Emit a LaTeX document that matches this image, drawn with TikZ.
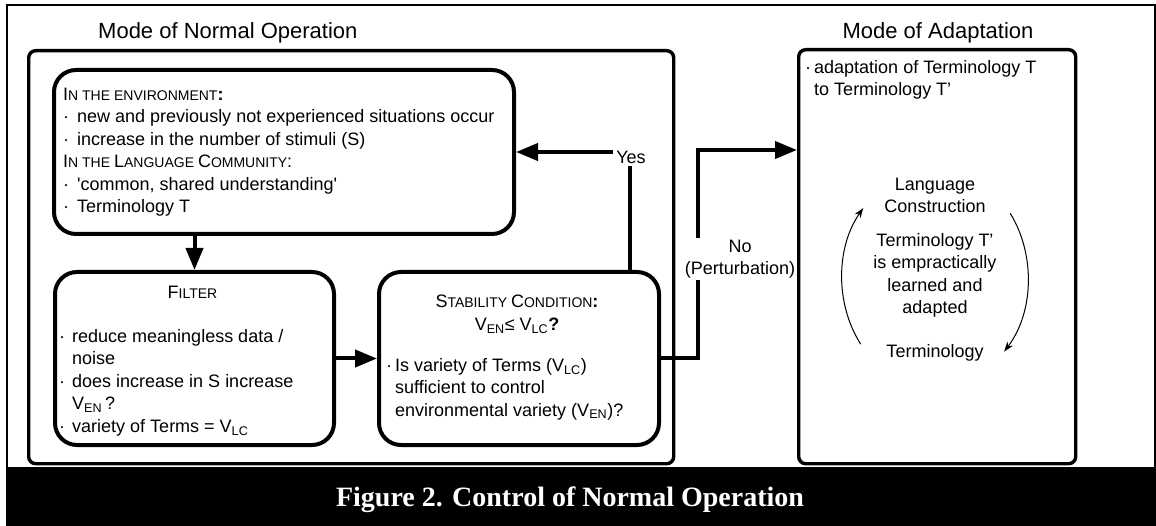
\documentclass[tikz,border=0pt]{standalone}
\usepackage{fontspec}
\setmainfont{Liberation Sans}
\newfontfamily\capfont{Liberation Serif}
\usetikzlibrary{arrows.meta}

% fake small capitals and helpers
\newcommand\sm[1]{{\fontsize{14}{14}\selectfont #1}}
\newcommand\bul[1]{\makebox[#1][l]{·}}
\newcommand\sub[1]{\textsubscript{#1}}

\begin{document}
\begin{tikzpicture}[x=1pt,y=1pt,
  bigbox/.style={draw, line width=3.4pt, rounded corners=7pt, inner sep=0pt},
  stepbox/.style={draw, line width=4pt, rounded corners=22pt, inner sep=0pt},
  flow/.style={line width=4pt, -{Triangle[length=22pt,width=17pt]}},
  cyc/.style={line width=1pt, -{Stealth[length=10pt,width=7pt]}},
  txt/.style={inner sep=0pt, font=\fontsize{18}{22.5}\selectfont},
  ttl/.style={inner sep=0pt, font=\fontsize{22}{26}\selectfont},
  lbl/.style={fill=white, inner sep=2pt, font=\fontsize{18}{21.5}\selectfont, align=center},
  ]
\useasboundingbox (0,0) rectangle (1156,-526);

% outer frame and caption band
\draw[line width=2pt] (7,-467) -- (7,-5.5) -- (1154.5,-5.5) -- (1154.5,-467);
\fill (6,-467) rectangle (1156,-526);
\node[text=white, inner sep=0pt, font=\capfont\bfseries\fontsize{28}{30}\selectfont, anchor=base]
  (caption) at (570,-506) {Figure 2. Control of Normal Operation};

% mode frames
\node[bigbox, anchor=north west, minimum width=645pt, minimum height=413pt] (normal) at (27,-49) {};
\node[bigbox, anchor=north west, minimum width=277pt, minimum height=414pt] (adapt) at (797,-48) {};
\node[ttl, anchor=base west] (tnormal) at (98,-39) {Mode of Normal Operation};
\node[ttl, anchor=base] (tadapt) at (938,-39) {Mode of Adaptation};

% process boxes
\node[stepbox, anchor=north west, minimum width=460pt, minimum height=164pt] (env) at (52,-68) {};
\node[stepbox, anchor=north west, minimum width=279pt, minimum height=173pt] (filt) at (53,-270) {};
\node[stepbox, anchor=north west, minimum width=280pt, minimum height=173pt] (stab) at (377,-270) {};

% environment box text
\node[txt, anchor=north west, align=left] (envtext) at (63,-84.25) {\strut I\sm{N THE ENVIRONMENT}\textbf{:}\\
\bul{14pt}new and previously not experienced situations occur\\
\bul{14pt}increase in the number of stimuli (S)\\
I\sm{N THE }L\sm{ANGUAGE }C\sm{OMMUNITY}:\\
\bul{14pt}\textquotesingle common, shared understanding\textquotesingle\\
\bul{14pt}Terminology T};

% filter box text
\node[txt, anchor=base] (filttitle) at (192.5,-299) {F\sm{ILTER}};
\node[txt, anchor=north west, align=left] (filttext) at (59,-326.25) {\strut\bul{13pt}reduce meaningless data /\\
\hspace*{13pt}noise\\
\bul{13pt}does increase in S increase\\
\hspace*{13pt}V\sub{EN}\,?\\
\bul{13pt}variety of Terms = V\sub{LC}};

% stability box text
\node[txt, anchor=base] (stabtitle) at (517,-308) {S\sm{TABILITY }C\sm{ONDITION}\textbf{:}};
\node[txt, anchor=base] (stabcond) at (517,-331) {V\sub{EN}≤ V\sub{LC}\textbf{?}};
\node[txt, anchor=north west, align=left] (stabtext) at (386,-355.25) {\strut\bul{9pt}Is variety of Terms (V\sub{LC})\\
\hspace*{9pt}sufficient to control\\
\hspace*{9pt}environmental variety (V\sub{EN})?};

% adaptation box text
\node[txt, anchor=north west, align=left] (adapttext) at (805,-57.25) {\strut\bul{9pt}adaptation of Terminology T\\
\hspace*{9pt}to Terminology T’};
\node[txt, anchor=north, align=center] (langcon) at (935,-174.25) {\strut Language\\Construction};
\node[txt, anchor=north, align=center] (learned) at (935,-230.25) {\strut Terminology T’\\is empractically\\learned and\\adapted};
\node[txt, anchor=base] (termin) at (935,-358) {Terminology};

% construction cycle
\coordinate (cycle) at (935,-278);
\draw[cyc] (cycle) ++(217:93pt and 110pt) arc[start angle=217, end angle=140.5, x radius=93pt, y radius=110pt];
\draw[cyc] (cycle) ++(36:93pt and 110pt) arc[start angle=36, end angle=-42, x radius=93pt, y radius=110pt];

% connectors
\draw[flow] (filt.north |- env.south) -- (filt.north);
\draw[flow] (filt.east) -- (stab.west);
\coordinate (yesx) at (630,0);
\draw[flow] (stab.north -| yesx) |- (env.east);
\node[fill=white, inner sep=3pt, font=\fontsize{18}{22}\selectfont] (yes) at (631,-157) {Yes};
\coordinate (nocorner) at (698,-150);
\draw[flow] (stab.east) -| (nocorner) -- (nocorner -| adapt.west);
\node[lbl] (no) at (740,-259) {No\\(Perturbation)};
\end{tikzpicture}
\end{document}
